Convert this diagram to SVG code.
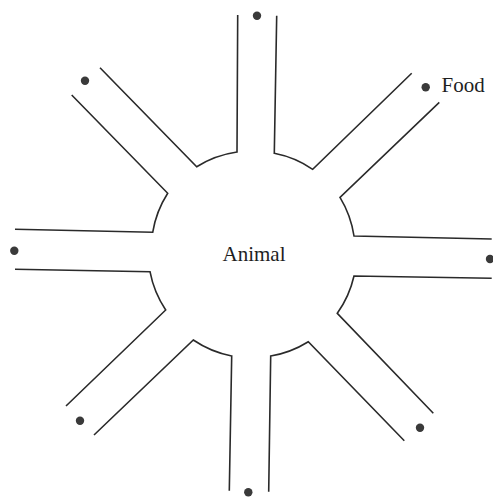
<svg xmlns="http://www.w3.org/2000/svg" width="493" height="497" viewBox="0 0 493 497">
<style>
.wall{fill:none;stroke:#2a2a2a;stroke-width:1.6;stroke-linejoin:miter}
.food{fill:#3a3a3a}
.lbl{font-family:"Liberation Serif","Times New Roman",serif;fill:#1e1e1e}
</style>
<rect width="493" height="497" fill="#ffffff"/>
<g id="hub">
<text class="lbl" x="254" y="261" font-size="21" text-anchor="middle">Animal</text>
</g>
<g id="walls">
<path class="wall" d="M276.7,15.7 L274.3,153.3 A104,104 0 0 1 312.7,169.3 L411.7,73.3"/>
<path class="wall" d="M439.3,102.3 L340,197.3 A104,104 0 0 1 354,236 L491.7,239"/>
<path class="wall" d="M491.7,278.3 L354,276 A104,104 0 0 1 337.3,313.3 L433.3,413.3"/>
<path class="wall" d="M404.3,440.7 L308.3,341.7 A104,104 0 0 1 270.7,356 L268.7,491.7"/>
<path class="wall" d="M229.3,490.7 L231.7,356 A104,104 0 0 1 193.3,340 L94,435"/>
<path class="wall" d="M66,406 L165.7,310 A104,104 0 0 1 150,271.7 L15,269.3"/>
<path class="wall" d="M15,229.3 L152.7,232.3 A104,104 0 0 1 167.7,193.3 L71.7,95"/>
<path class="wall" d="M100,67.7 L196.7,166.7 A104,104 0 0 1 237,152 L237.7,15"/>
</g>
<g id="arm-n"><circle class="food" cx="257" cy="15.7" r="4.2"/></g>
<g id="arm-ne"><circle class="food" cx="425.7" cy="87.3" r="4.2"/><text class="lbl" x="441.5" y="92" font-size="21">Food</text></g>
<g id="arm-e"><circle class="food" cx="490" cy="259" r="4.2"/></g>
<g id="arm-se"><circle class="food" cx="420" cy="427.7" r="4.2"/></g>
<g id="arm-s"><circle class="food" cx="248.3" cy="492.3" r="4.2"/></g>
<g id="arm-sw"><circle class="food" cx="80" cy="420.7" r="4.2"/></g>
<g id="arm-w"><circle class="food" cx="14.3" cy="250.7" r="4.2"/></g>
<g id="arm-nw"><circle class="food" cx="85" cy="80.7" r="4.2"/></g>
</svg>
